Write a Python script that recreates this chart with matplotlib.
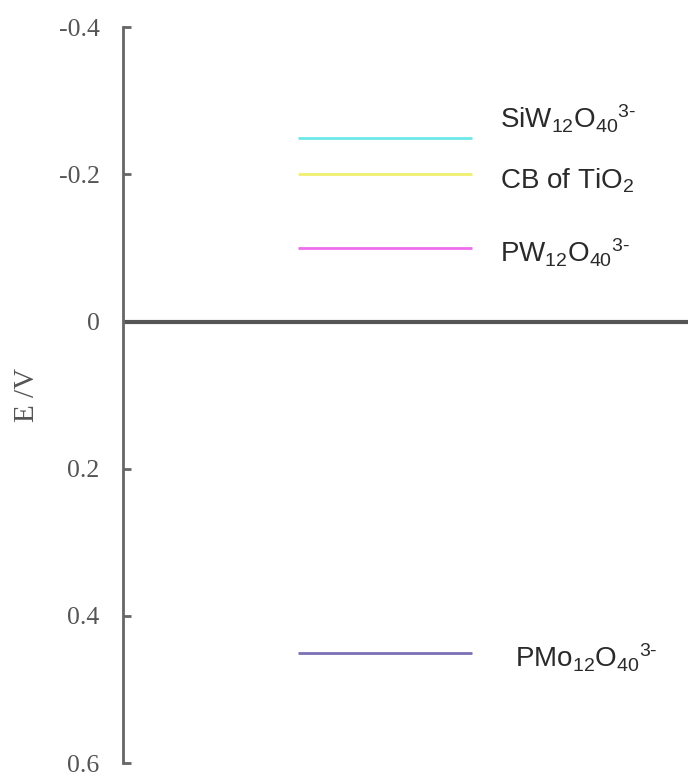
import matplotlib.pyplot as plt

plt.rcParams['mathtext.fontset'] = 'custom'
plt.rcParams['mathtext.rm'] = 'Liberation Sans'
plt.rcParams['mathtext.it'] = 'Liberation Sans:italic'

# redox potentials (V)
species = [r'SiW$_{12}$O$_{40}$$^{3\text{-}}$', r'CB of TiO$_2$',
           r'PW$_{12}$O$_{40}$$^{3\text{-}}$', r'PMo$_{12}$O$_{40}$$^{3\text{-}}$']
potentials = [-0.25, -0.2, -0.1, 0.45]
colors = ['#6ee8e8', '#f0f070', '#ee6eee', '#7a70b4']
label_dx = [0.0, 0.0, 0.0, 0.027]
label_dy = [-0.026, 0.009, 0.006, 0.007]

yticks = [-0.4, -0.2, 0, 0.2, 0.4, 0.6]
yticklabels = ['-0.4', '-0.2', '0', '0.2', '0.4', '0.6']

fig = plt.figure(figsize=(6.88, 7.77), dpi=100)
ax = fig.add_axes([0.179, 0.018, 0.821, 0.947])

ax.set_xlim(0, 1)
ax.set_ylim(0.6, -0.4)

for name, e, c, dx, dy in zip(species, potentials, colors, label_dx, label_dy):
    ax.plot([0.31, 0.618], [e, e], color=c, lw=2, solid_capstyle='butt')
    ax.text(0.667 + dx, e + dy, name, fontsize=20, family='Liberation Sans',
            color='#2a2a2a', va='center', ha='left')

ax.axhline(0, color='#555555', lw=3)

for s in ['top', 'right', 'bottom']:
    ax.spines[s].set_visible(False)
ax.spines['left'].set_color('#666666')
ax.spines['left'].set_linewidth(2)

ax.set_xticks([])
ax.set_yticks(yticks)
ax.set_yticklabels(yticklabels, family='Liberation Serif', fontsize=18.5, color='#555555')
ax.tick_params(axis='y', direction='in', length=6, width=2, color='#666666', pad=17)
ax.set_ylabel('E /V', family='Liberation Serif', fontsize=21, color='#555555')
ax.yaxis.set_label_coords(-0.147, 0.5)

fig.savefig('out.png', dpi=100)
